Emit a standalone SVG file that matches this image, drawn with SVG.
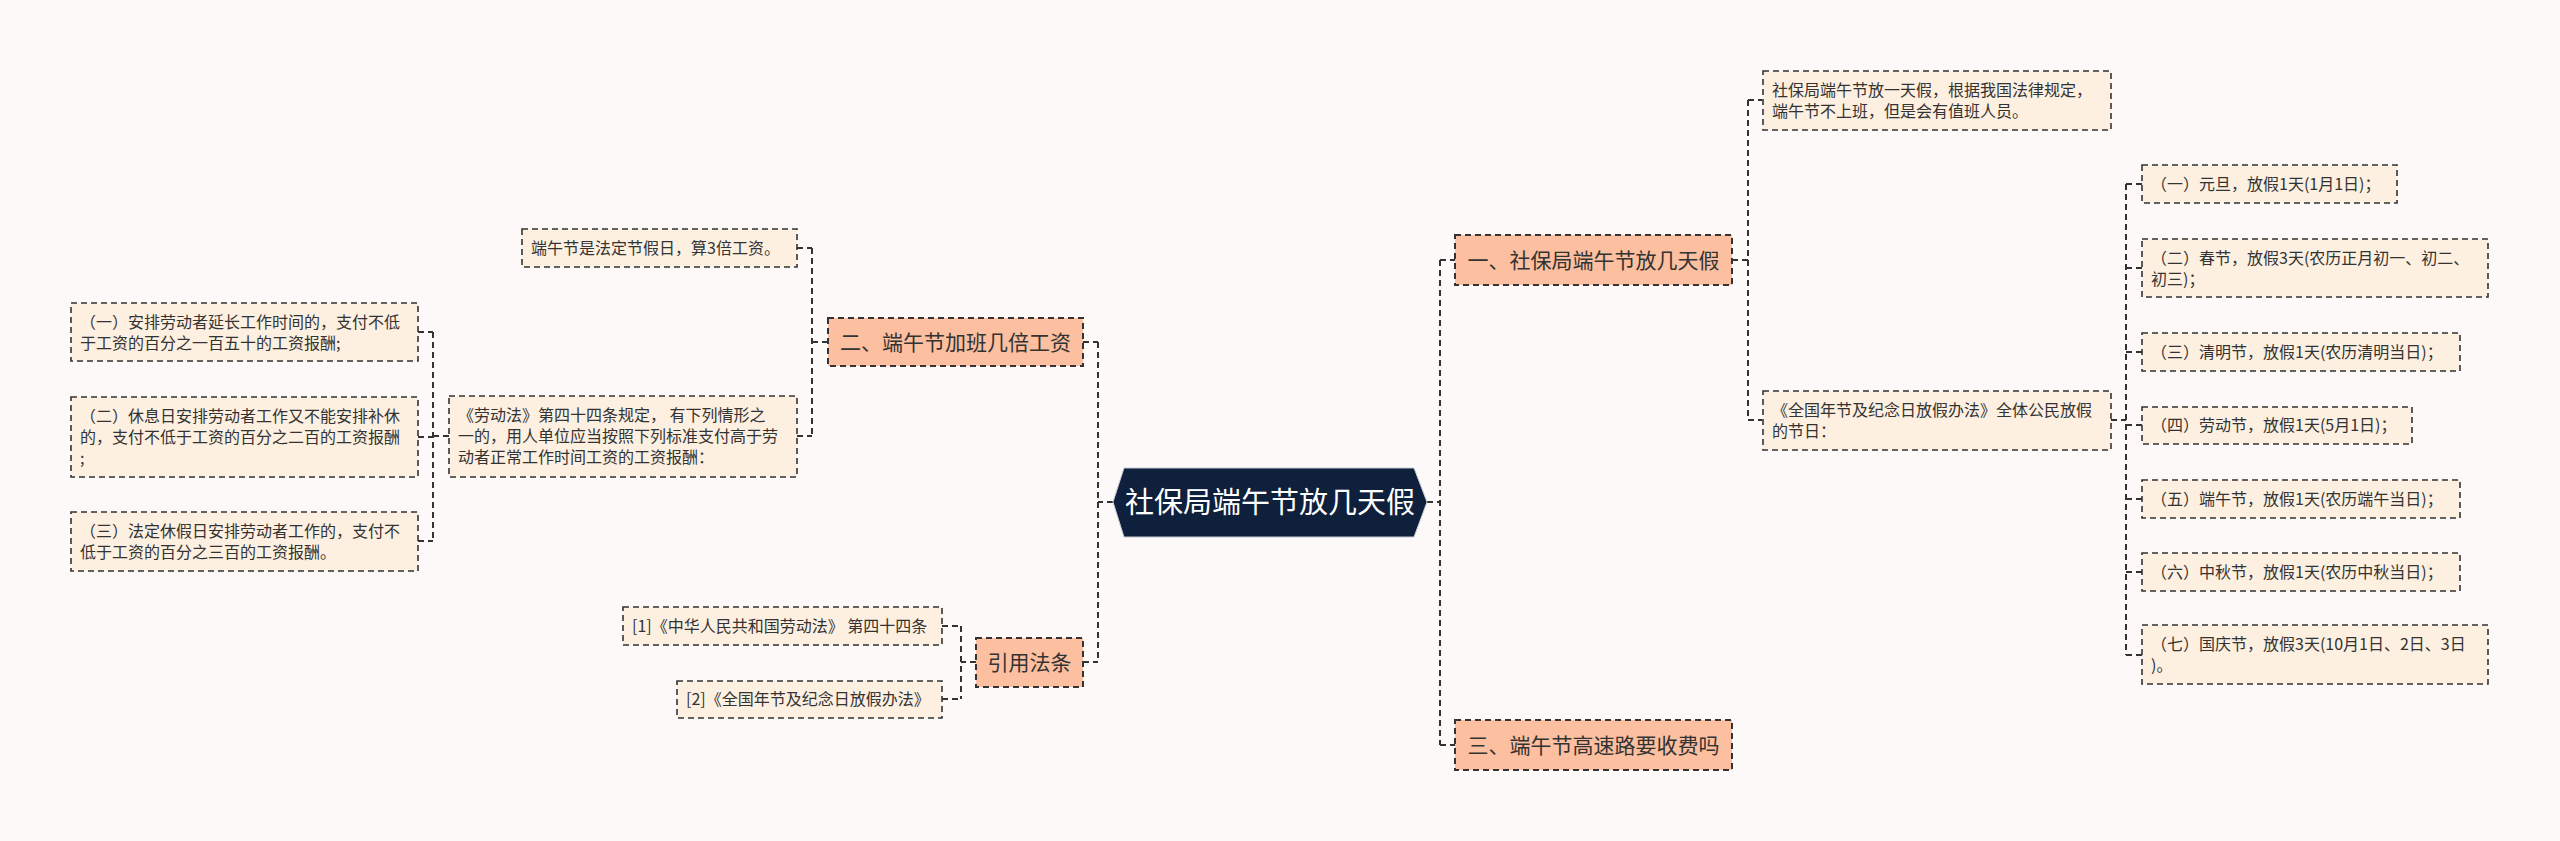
<svg xmlns="http://www.w3.org/2000/svg" width="2560" height="841" viewBox="0 0 2560 841">
<style>
text{font-family:"Noto Sans CJK SC","Noto Sans",sans-serif;fill:#333}
.l1 rect{fill:#fcbf9f;stroke:#333;stroke-width:2;stroke-dasharray:6 4}
.l1 text{font-size:21px;text-anchor:middle}
.c rect{fill:#fdf0e1;stroke:#333;stroke-width:1.6;stroke-dasharray:6 4}
.c text{font-size:16px}
#links path{fill:none;stroke:#333;stroke-width:2;stroke-dasharray:6 4}
</style>
<rect width="2560" height="841" fill="#fdf9f8"/>
<g id="links">
<path d="M1427 502H1440M1440 260V745M1440 260H1455M1440 745H1455"/>
<path d="M1732 260H1748M1748 100V420M1748 100H1762M1748 420H1762"/>
<path d="M2111 420H2126M2126 184V655M2126 184H2142M2126 268H2142M2126 352H2142M2126 425H2142M2126 499H2142M2126 572H2142M2126 655H2142"/>
<path d="M1113 502H1098M1098 342V662M1083 342H1098M1083 662H1098"/>
<path d="M828 342H812M812 248V436M797 248H812M797 436H812"/>
<path d="M449 436H433M433 332V541M418 332H433M418 437H433M418 541H433"/>
<path d="M976 662H961M961 626V699M942 626H961M942 699H961"/>
</g>
<g id="root">
<polygon points="1113,502 1124,468 1414,468 1427,502 1414,537 1124,537" fill="#0f203d" stroke="#c8ccd4" stroke-width="1"/>
<text x="1270" y="512.5" style="font-size:29px;fill:#fff;text-anchor:middle">社保局端午节放几天假</text>
</g>
<g id="n1" class="l1"><rect x="1455" y="235" width="277" height="50"/><text x="1593.5" y="267.5">一、社保局端午节放几天假</text></g>
<g id="n3" class="l1"><rect x="1455" y="720" width="277" height="50"/><text x="1593.5" y="752.5">三、端午节高速路要收费吗</text></g>
<g id="n2" class="l1"><rect x="828" y="318" width="255" height="48"/><text x="955.5" y="349.5">二、端午节加班几倍工资</text></g>
<g id="n4" class="l1"><rect x="976" y="638" width="107" height="49"/><text x="1029.5" y="670">引用法条</text></g>

<g id="c1" class="c"><rect x="1763" y="71" width="348" height="59"/><text x="1772" y="96">社保局端午节放一天假，根据我国法律规定，</text><text x="1772" y="117">端午节不上班，但是会有值班人员。</text></g>
<g id="c2" class="c"><rect x="1763" y="391" width="348" height="59"/><text x="1772" y="416">《全国年节及纪念日放假办法》全体公民放假</text><text x="1772" y="437">的节日：</text></g>
<g id="h1" class="c"><rect x="2142" y="165" width="255" height="38"/><text x="2151" y="190">（一）元旦，放假1天(1月1日)；</text></g>
<g id="h2" class="c"><rect x="2142" y="239" width="346" height="58"/><text x="2151" y="264">（二）春节，放假3天(农历正月初一、初二、</text><text x="2151" y="285">初三)；</text></g>
<g id="h3" class="c"><rect x="2142" y="333" width="318" height="38"/><text x="2151" y="358">（三）清明节，放假1天(农历清明当日)；</text></g>
<g id="h4" class="c"><rect x="2142" y="407" width="270" height="37"/><text x="2151" y="431">（四）劳动节，放假1天(5月1日)；</text></g>
<g id="h5" class="c"><rect x="2142" y="480" width="318" height="38"/><text x="2151" y="505">（五）端午节，放假1天(农历端午当日)；</text></g>
<g id="h6" class="c"><rect x="2142" y="553" width="318" height="38"/><text x="2151" y="578">（六）中秋节，放假1天(农历中秋当日)；</text></g>
<g id="h7" class="c"><rect x="2142" y="625" width="346" height="59"/><text x="2151" y="650">（七）国庆节，放假3天(10月1日、2日、3日</text><text x="2151" y="671">)。</text></g>

<g id="d1" class="c"><rect x="522" y="229" width="275" height="38"/><text x="531" y="254">端午节是法定节假日，算3倍工资。</text></g>
<g id="d2" class="c"><rect x="449" y="396" width="348" height="81"/><text x="458" y="421">《劳动法》第四十四条规定， 有下列情形之</text><text x="458" y="442">一的，用人单位应当按照下列标准支付高于劳</text><text x="458" y="463">动者正常工作时间工资的工资报酬：</text></g>
<g id="e1" class="c"><rect x="71" y="303" width="347" height="58"/><text x="80" y="328">（一）安排劳动者延长工作时间的，支付不低</text><text x="80" y="349">于工资的百分之一百五十的工资报酬;</text></g>
<g id="e2" class="c"><rect x="71" y="397" width="347" height="80"/><text x="80" y="422">（二）休息日安排劳动者工作又不能安排补休</text><text x="80" y="443">的，支付不低于工资的百分之二百的工资报酬</text><text x="80" y="464">;</text></g>
<g id="e3" class="c"><rect x="71" y="512" width="347" height="59"/><text x="80" y="537">（三）法定休假日安排劳动者工作的，支付不</text><text x="80" y="558">低于工资的百分之三百的工资报酬。</text></g>
<g id="r1" class="c"><rect x="623" y="607" width="319" height="38"/><text x="632" y="632">[1]《中华人民共和国劳动法》 第四十四条</text></g>
<g id="r2" class="c"><rect x="677" y="681" width="265" height="37"/><text x="686" y="705">[2]《全国年节及纪念日放假办法》</text></g>
</svg>
